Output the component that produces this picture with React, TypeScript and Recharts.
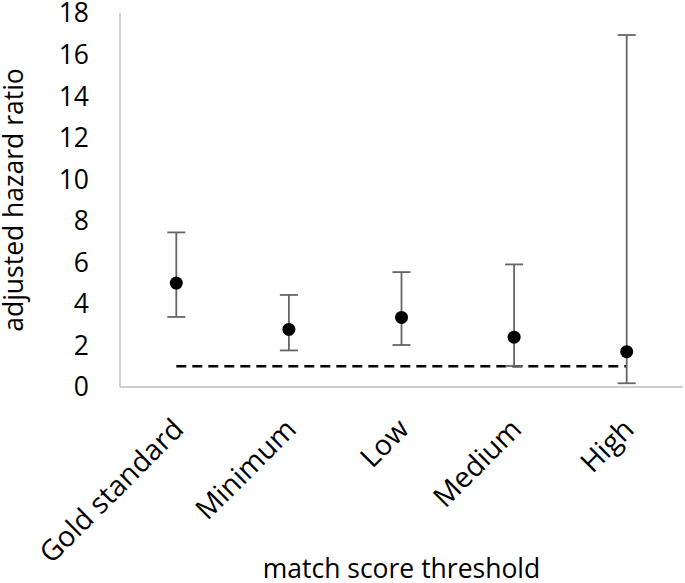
import React from "react";
import { ComposedChart, Scatter, Line, XAxis, YAxis, ErrorBar } from "recharts";

const categories = ["Gold standard", "Minimum", "Low", "Medium", "High"];
const hazardRatio = [5.0, 2.77, 3.35, 2.4, 1.7];
const ciLower = [3.37, 1.76, 2.02, 1.01, 0.18];
const ciUpper = [7.44, 4.43, 5.53, 5.9, 16.94];
const referenceValue = [1, 1, 1, 1, 1];
const yTicks = [0, 2, 4, 6, 8, 10, 12, 14, 16, 18];

const data = categories.map((c, i) => ({
  name: c,
  hr: hazardRatio[i],
  err: [hazardRatio[i] - ciLower[i], ciUpper[i] - hazardRatio[i]],
  ref: referenceValue[i],
}));

const FONT = "'Open Sans', sans-serif";
const FS = 26.5;
const XFS = 28.5;

const XTick = (props: any) => {
  const { x, y, payload } = props;
  const ax = x + 9;
  const ay = y + 36;
  return (
    <text
      x={ax}
      y={ay}
      textAnchor="end"
      fontFamily={FONT}
      fontSize={XFS}
      fill="#000"
      transform={`rotate(-45 ${ax} ${ay})`}
    >
      {payload.value}
    </text>
  );
};

const Dot = (props: any) => {
  const { cx, cy } = props;
  return <circle cx={cx} cy={cy} r={6.5} fill="#000" />;
};

export default function App() {
  return (
    <div style={{ position: "absolute", left: 0, top: 0 }}>
      <ComposedChart
        width={685}
        height={583}
        data={data}
        margin={{ top: 13, right: 2, bottom: 0, left: 0 }}
      >
        <XAxis
          dataKey="name"
          type="category"
          scale="band"
          height={196}
          axisLine={{ stroke: "#bfbfbf", strokeWidth: 1.5 }}
          tickLine={false}
          tick={<XTick />}
          interval={0}
          label={(p: any) => {
            const vb = p.viewBox;
            return (
              <text
                x={vb.x + vb.width / 2}
                y={vb.y + 191}
                textAnchor="middle"
                fontFamily={FONT}
                fontSize={FS}
                fill="#000"
              >
                match score threshold
              </text>
            );
          }}
        />
        <YAxis
          type="number"
          domain={[0, 18]}
          ticks={yTicks}
          interval={0}
          width={120}
          axisLine={{ stroke: "#bfbfbf", strokeWidth: 1.5 }}
          tickLine={false}
          tickSize={0}
          tickMargin={31}
          tick={{ fontFamily: FONT, fontSize: FS, fill: "#000" }}
          label={(p: any) => {
            const vb = p.viewBox;
            const cx = vb.x + 23;
            const cy = vb.y + vb.height / 2;
            return (
              <text
                x={cx}
                y={cy}
                textAnchor="middle"
                fontFamily={FONT}
                fontSize={FS}
                fill="#000"
                transform={`rotate(-90 ${cx} ${cy})`}
              >
                adjusted hazard ratio
              </text>
            );
          }}
        />
        <Line
          dataKey="ref"
          stroke="#000"
          strokeWidth={2.5}
          strokeDasharray="10 6"
          dot={false}
          activeDot={false}
          isAnimationActive={false}
        />
        <Scatter dataKey="hr" shape={<Dot />} isAnimationActive={false}>
          <ErrorBar dataKey="err" width={9} stroke="#666" strokeWidth={1.8} direction="y" />
        </Scatter>
      </ComposedChart>
    </div>
  );
}
